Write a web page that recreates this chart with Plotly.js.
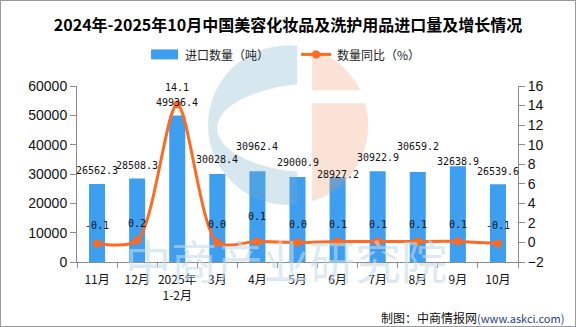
<!DOCTYPE html>
<html>
<head>
<meta charset="utf-8">
<script src="https://cdn.plot.ly/plotly-3.0.1.min.js"></script>
<style>
  html, body { margin: 0; padding: 0; background: #fff; }
  #wrap { position: relative; width: 576px; height: 327px; }
  #chart { width: 576px; height: 327px; }
  #frame { position: absolute; left: 0; top: 0; width: 574px; height: 325px; border: 1px solid #9a9a9a; pointer-events: none; }
</style>
</head>
<body>
<div id="wrap"><div id="chart"></div><div id="frame"></div></div>
<script>
// ---- data ----
const categories = ['11月', '12月', '2025年<br>1-2月', '3月', '4月', '5月', '6月', '7月', '8月', '9月', '10月'];
const importVolume = [26562.3, 28508.3, 49936.4, 30028.4, 30962.4, 29000.9, 28927.2, 30922.9, 30659.2, 32638.9, 26539.6];
const yoyChange = [-0.1, 0.2, 14.1, 0.0, 0.1, 0.0, 0.1, 0.1, 0.1, 0.1, -0.1];
const seriesNames = ['进口数量（吨）', '数量同比（%）'];
const titleText = '2024年-2025年10月中国美容化妆品及洗护用品进口量及增长情况';
const sourceText = '制图：中商情报网';
const sourceUrl = '(www.askci.com)';
const watermarkText = '中商产业研究院';

// ---- style ----
const barColor = '#3E9EF0';
const lineColor = '#FF6A22';
const axisColor = '#8c8c8c';
const cjk = '"Noto Sans CJK SC", "Noto Sans", sans-serif';
const mono = '"DejaVu Sans Mono", "Liberation Mono", monospace';
const numFont = '"Liberation Sans", Arial, sans-serif';
const barLabelShift = [14, 13, 13, 14, 25, 14, 3, 14, 26, 5, 13];
const lineLabelShift = [18, 17, 17, 18, 25, 18, 17, 17, 17, 17, 18];

// plot area in pixels
const PL = 77, PR = 517.7, PT = 85.7, PB = 262.3;
const PW = PR - PL, PH = PB - PT;
const px = x => (x - PL) / PW;
const py = y => (PB - y) / PH;
function pathFrom(pts) {
  return 'M' + pts.map(p => px(p[0]).toFixed(4) + ',' + py(p[1]).toFixed(4)).join('L') + 'Z';
}
function arc(cx, cy, rx, ry, a0, a1, n) {
  const pts = [];
  for (let i = 0; i <= n; i++) {
    const a = a0 + (a1 - a0) * i / n;
    pts.push([cx + rx * Math.cos(a), cy + ry * Math.sin(a)]);
  }
  return pts;
}
// watermark logo geometry (pixels)
const cx = 288, cy = 125, R = 80;
const blueX = 297, salX = 312;
const tA = Math.acos((blueX - cx) / R);
const ex = 320, ey = 128, erx = 103, ery = 45;
const eA = Math.acos((blueX - ex) / erx);
const bluePts = arc(cx, cy, R, R, -tA, -(2 * Math.PI - tA), 60)
  .concat(arc(ex, ey, erx, ery, eA, 2 * Math.PI - eA, 40));
const sA = Math.acos((salX - cx) / R);
const gapTop = 90, gapBot = 103;
const aGapTop = Math.asin((gapTop - cy) / R);
const aGapBot = Math.asin((gapBot - cy) / R);
const salTop = arc(cx, cy, R, R, -sA, aGapTop, 30).concat([[salX, gapTop]]);
const salBot = [[salX, gapBot]].concat(arc(cx, cy, R, R, aGapBot, sA, 40));

const shapes = [
  { type: 'path', xref: 'paper', yref: 'paper', path: pathFrom(bluePts), fillcolor: 'rgb(120,175,205)', opacity: 0.3, line: { width: 0 }, layer: 'above' },
  { type: 'path', xref: 'paper', yref: 'paper', path: pathFrom(salTop), fillcolor: 'rgb(238,152,112)', opacity: 0.28, line: { width: 0 }, layer: 'above' },
  { type: 'path', xref: 'paper', yref: 'paper', path: pathFrom(salBot), fillcolor: 'rgb(238,152,112)', opacity: 0.28, line: { width: 0 }, layer: 'above' },
  // custom legend
  { type: 'rect', xref: 'paper', yref: 'paper', x0: px(151), x1: px(178), y0: py(59), y1: py(49), fillcolor: barColor, line: { width: 0 } },
  { type: 'line', xref: 'paper', yref: 'paper', x0: px(301), x1: px(331), y0: py(54), y1: py(54), line: { color: lineColor, width: 3 } },
  { type: 'circle', xref: 'paper', yref: 'paper', x0: px(312), x1: px(320), y0: py(58), y1: py(50), fillcolor: lineColor, line: { width: 0 } }
];

const annotations = [];
annotations.push({ xref: 'paper', yref: 'paper', x: px(286), y: py(259), text: watermarkText, showarrow: false,
  font: { family: cjk, size: 46, color: 'rgba(195,220,234,0.6)' }, xanchor: 'center', yanchor: 'middle' });
importVolume.forEach((v, i) => annotations.push({
  x: i, y: v, xref: 'x', yref: 'y', text: v.toFixed(1), showarrow: false, yanchor: 'middle', yshift: barLabelShift[i],
  font: { family: mono, size: 10, color: '#111' }
}));
yoyChange.forEach((v, i) => annotations.push({
  x: i, y: v, xref: 'x', yref: 'y2', text: v.toFixed(1), showarrow: false, yanchor: 'middle', yshift: lineLabelShift[i],
  font: { family: mono, size: 10, color: '#111' }
}));
annotations.push({ xref: 'paper', yref: 'paper', x: px(183), y: py(54), xanchor: 'left', yanchor: 'middle', text: seriesNames[0], showarrow: false, font: { family: cjk, size: 12, color: '#222' } });
annotations.push({ xref: 'paper', yref: 'paper', x: px(335), y: py(54), xanchor: 'left', yanchor: 'middle', text: seriesNames[1], showarrow: false, font: { family: cjk, size: 12, color: '#222' } });
annotations.push({ xref: 'paper', yref: 'paper', x: px(566), y: py(318), xanchor: 'right', yanchor: 'middle', showarrow: false,
  text: sourceText + '<span style="color:#27408b;font-size:11px">' + sourceUrl + '</span>',
  font: { family: cjk, size: 12, color: '#111' } });

const traces = [
  { type: 'bar', x: categories, y: importVolume, name: seriesNames[0], marker: { color: barColor }, width: 0.4, hoverinfo: 'skip' },
  { type: 'scatter', mode: 'lines+markers', x: categories, y: yoyChange, yaxis: 'y2', name: seriesNames[1],
    line: { color: lineColor, width: 3, shape: 'spline', smoothing: 0.8 }, marker: { color: lineColor, size: 8 }, hoverinfo: 'skip' }
];

const axisStyle = { showline: true, linecolor: axisColor, linewidth: 1, ticks: 'outside', tickcolor: axisColor, showgrid: false, zeroline: false };
const layout = {
  width: 576, height: 327,
  margin: { l: PL, r: 576 - PR, t: PT, b: 327 - PB, pad: 0 },
  paper_bgcolor: '#fff', plot_bgcolor: 'rgba(0,0,0,0)',
  showlegend: false,
  title: { text: titleText, x: 0.5, xanchor: 'center', y: 1 - 25 / 327, yanchor: 'middle', font: { family: cjk, size: 16, color: '#000', weight: 'bold' } },
  xaxis: Object.assign({}, axisStyle, { type: 'category', tickson: 'boundaries', ticklen: 5, range: [-0.5, 10.5], tickangle: 0, automargin: false,
    ticklabelstandoff: 7, tickfont: { family: cjk, size: 12, color: '#111' } }),
  yaxis: Object.assign({}, axisStyle, { range: [0, 60000], tickvals: [0, 10000, 20000, 30000, 40000, 50000, 60000], tickformat: 'd', ticklen: 6, automargin: false, tickfont: { family: numFont, size: 14, color: '#111' } }),
  yaxis2: Object.assign({}, axisStyle, { overlaying: 'y', side: 'right', range: [-2, 16], dtick: 2, ticklen: 6, automargin: false, tickfont: { family: numFont, size: 14, color: '#111' } }),
  shapes: shapes,
  annotations: annotations,
  font: { family: cjk }
};
Plotly.newPlot('chart', traces, layout, { displayModeBar: false, staticPlot: true });
</script>
</body>
</html>
